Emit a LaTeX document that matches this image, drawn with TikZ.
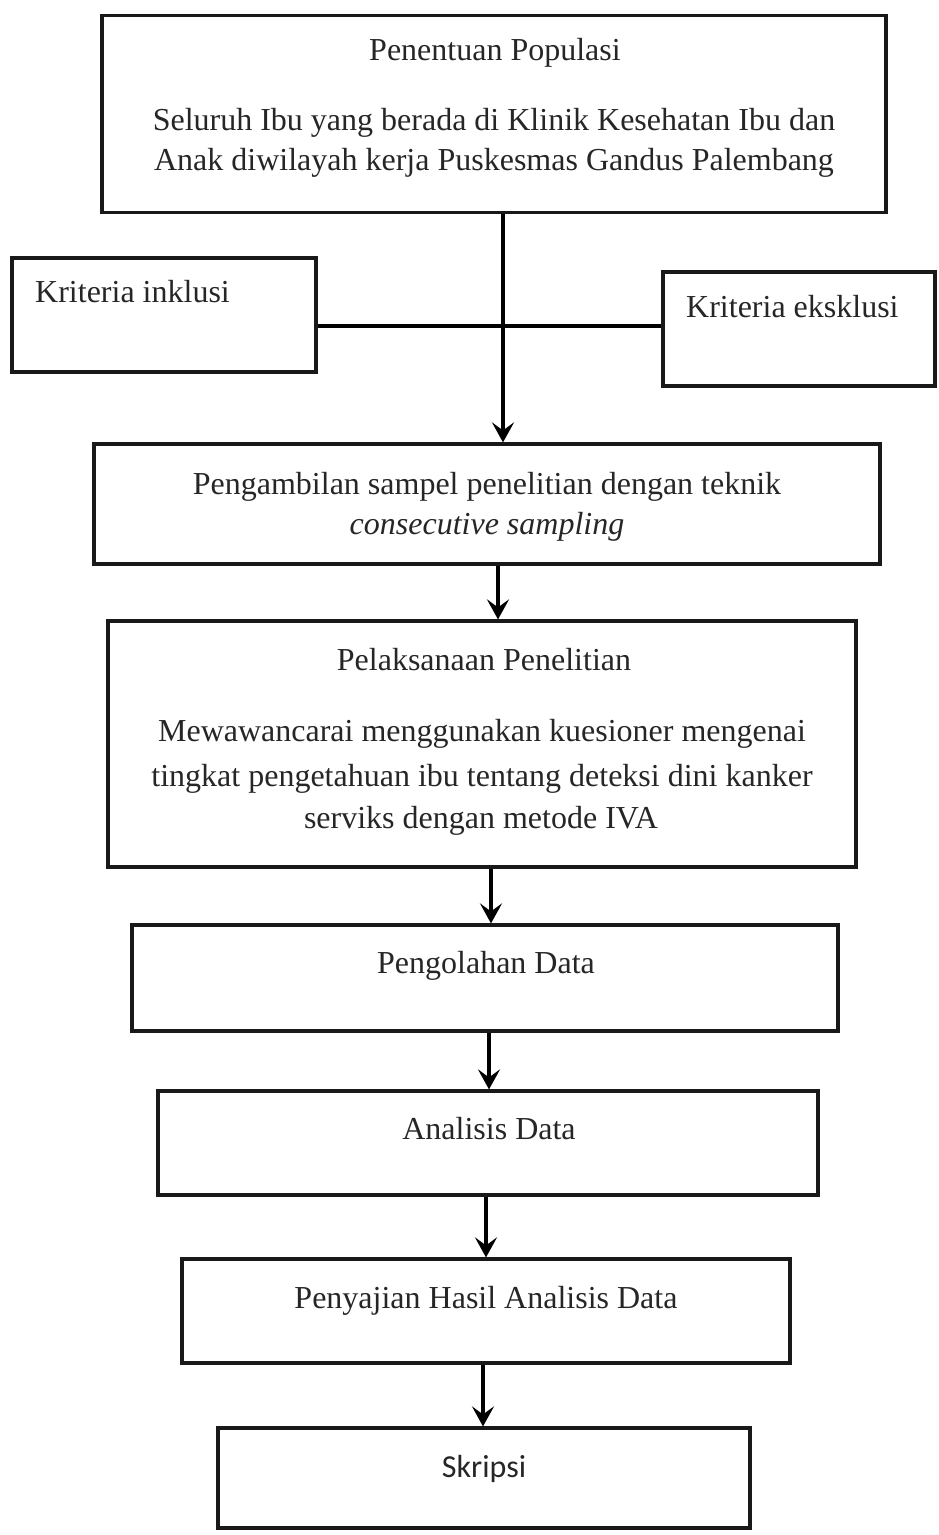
\documentclass[tikz,border=0pt]{standalone}
\usepackage{fontspec}
\setmainfont{Liberation Serif}
\newfontfamily\skfont{Carlito}
\usetikzlibrary{arrows.meta}
\begin{document}
\begin{tikzpicture}[x=1pt,y=-1pt,
  box/.style={draw=black!90, line width=3.2pt, inner sep=0pt},
  txt/.style={font=\fontsize{32}{40}\selectfont, inner sep=0pt, anchor=base, text=black!85},
  arr/.style={line width=3.2pt, -{Stealth[length=20pt,width=22pt,inset=8pt]}},
  ln/.style={line width=3.2pt}]
\useasboundingbox (0,0) rectangle (938,1535);
% boxes
\node[box, minimum width=784pt, minimum height=197pt] (pop) at (494,114) {};
\node[box, minimum width=304pt, minimum height=114pt] (incl) at (164,315) {};
\node[box, minimum width=272pt, minimum height=114pt] (eks) at (799,329) {};
\node[box, minimum width=786pt, minimum height=120pt] (samp) at (487,504) {};
\node[box, minimum width=748pt, minimum height=246pt] (pel) at (482,744) {};
\node[box, minimum width=706pt, minimum height=106pt] (olah) at (485,978) {};
\node[box, minimum width=660pt, minimum height=104pt] (anal) at (488,1143) {};
\node[box, minimum width=608pt, minimum height=104pt] (saji) at (486,1311) {};
\node[box, minimum width=532pt, minimum height=100pt] (skr) at (484,1478) {};
% texts
\node[txt] (t1) at (495,60) {Penentuan Populasi};
\node[txt] (t2) at (494,130) {Seluruh Ibu yang berada di Klinik Kesehatan Ibu dan};
\node[txt] (t3) at (494,170) {Anak diwilayah kerja Puskesmas Gandus Palembang};
\node[txt, anchor=base west] (t4) at (35,302) {Kriteria inklusi};
\node[txt, anchor=base west] (t5) at (686,317) {Kriteria eksklusi};
\node[txt] (t6) at (487,494) {Pengambilan sampel penelitian dengan teknik};
\node[txt, font=\fontsize{32}{40}\selectfont\itshape] (t7) at (487,534) {consecutive sampling};
\node[txt] (t8) at (484,670) {Pelaksanaan Penelitian};
\node[txt] (t9) at (482,741) {Mewawancarai menggunakan kuesioner mengenai};
\node[txt] (t10) at (482,786) {tingkat pengetahuan ibu tentang deteksi dini kanker};
\node[txt] (t11) at (481,828) {serviks dengan metode IVA};
\node[txt] (t12) at (486,973) {Pengolahan Data};
\node[txt] (t13) at (489,1139) {Analisis Data};
\node[txt] (t14) at (486,1308) {Penyajian Hasil Analisis Data};
\node[txt, font=\fontsize{32}{40}\skfont] (t15) at (484,1477) {Skripsi};
% connectors
\coordinate (c1) at (503,0);
\coordinate (h) at (0,326);
\coordinate (c2) at (498,0);
\coordinate (c3) at (491,0);
\coordinate (c4) at (489,0);
\coordinate (c5) at (486,0);
\coordinate (c6) at (483,0);
\draw[arr] (pop.south -| c1) -- (samp.north -| c1);
\draw[ln] (incl.east |- h) -- (eks.west |- h);
\draw[arr] (samp.south -| c2) -- (pel.north -| c2);
\draw[arr] (pel.south -| c3) -- (olah.north -| c3);
\draw[arr] (olah.south -| c4) -- (anal.north -| c4);
\draw[arr] (anal.south -| c5) -- (saji.north -| c5);
\draw[arr] (saji.south -| c6) -- (skr.north -| c6);
\end{tikzpicture}
\end{document}
